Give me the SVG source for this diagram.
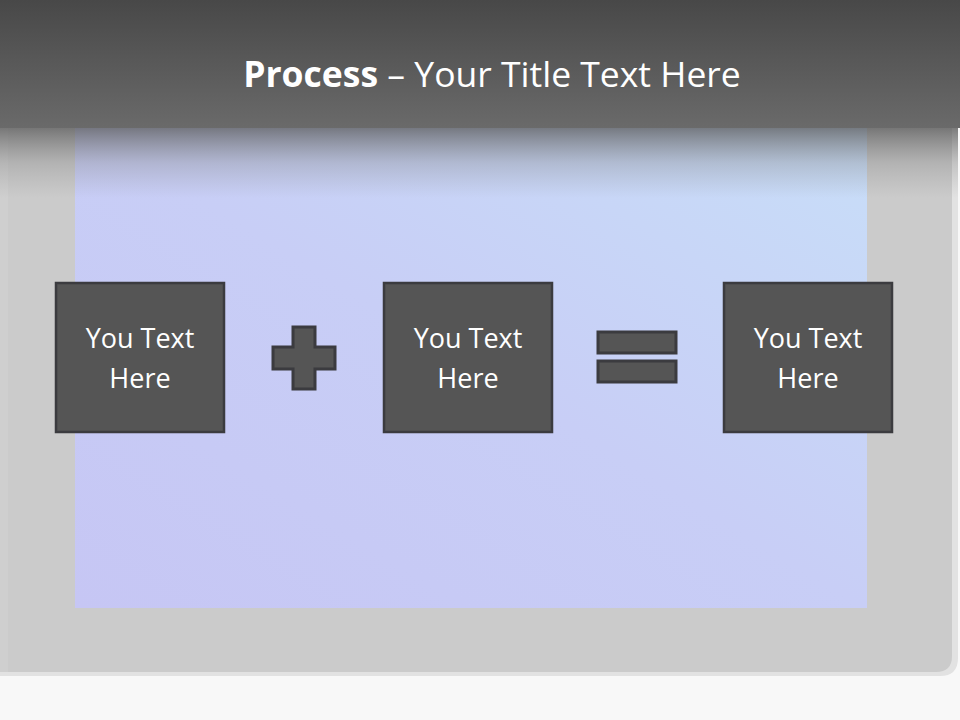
<svg xmlns="http://www.w3.org/2000/svg" width="960" height="720" viewBox="0 0 960 720">
<defs>
<linearGradient id="hdr" x1="0" y1="0" x2="0" y2="1">
<stop offset="0" stop-color="#484848"/>
<stop offset="1" stop-color="#6a6a6a"/>
</linearGradient>
<linearGradient id="scr" x1="0" y1="1" x2="1" y2="0">
<stop offset="0" stop-color="#c6c6f4"/>
<stop offset="0.5" stop-color="#c8cef6"/>
<stop offset="1" stop-color="#c8def8"/>
</linearGradient>
<linearGradient id="shd" x1="0" y1="0" x2="0" y2="1">
<stop offset="0" stop-color="#5a5a5a" stop-opacity="0.75"/>
<stop offset="0.5" stop-color="#7a7a7a" stop-opacity="0.3"/>
<stop offset="1" stop-color="#888" stop-opacity="0"/>
</linearGradient>
<style>
.box{fill:#555555;stroke:#3b3b3f;stroke-width:2.5}
.sym{fill:#555555;stroke:#3b3b3f;stroke-width:3}
.lbl{font-family:"Open Sans","Liberation Sans",sans-serif;font-size:27px;fill:#ffffff;text-anchor:middle}
</style>
</defs>
<rect width="960" height="720" fill="#f8f8f8"/>
<g id="frame">
<path d="M0 100 H958 V658 Q958 676 940 676 H0 Z" fill="#e2e2e2"/>
<path d="M0 100 H952 V656 Q952 672 936 672 H0 Z" fill="#cbcbcb"/>
<rect x="0" y="100" width="8" height="572" fill="#cfcfcf"/>
</g>
<rect x="75" y="120" width="792" height="488" fill="url(#scr)"/>
<rect x="0" y="128" width="958" height="70" fill="url(#shd)"/>
<g id="header">
<rect x="0" y="0" width="960" height="128" fill="url(#hdr)"/>
<text x="492" y="87" text-anchor="middle" font-family="'Open Sans','Liberation Sans',sans-serif" font-size="35.5" fill="#ffffff"><tspan font-weight="bold">Process</tspan> – Your Title Text Here</text>
</g>
<g id="node1">
<rect class="box" x="56" y="283" width="168" height="149"/>
<text class="lbl" x="140" y="348">You Text</text>
<text class="lbl" x="140" y="388">Here</text>
</g>
<g id="plus">
<path class="sym" d="M293 327 H315 V347 H335 V369 H315 V389 H293 V369 H273 V347 H293 Z"/>
</g>
<g id="node2">
<rect class="box" x="384" y="283" width="168" height="149"/>
<text class="lbl" x="468" y="348">You Text</text>
<text class="lbl" x="468" y="388">Here</text>
</g>
<g id="equals">
<rect class="sym" x="598" y="332" width="78" height="21"/>
<rect class="sym" x="598" y="361" width="78" height="21"/>
</g>
<g id="node3">
<rect class="box" x="724" y="283" width="168" height="149"/>
<text class="lbl" x="808" y="348">You Text</text>
<text class="lbl" x="808" y="388">Here</text>
</g>
<g id="connectors"></g>
</svg>
